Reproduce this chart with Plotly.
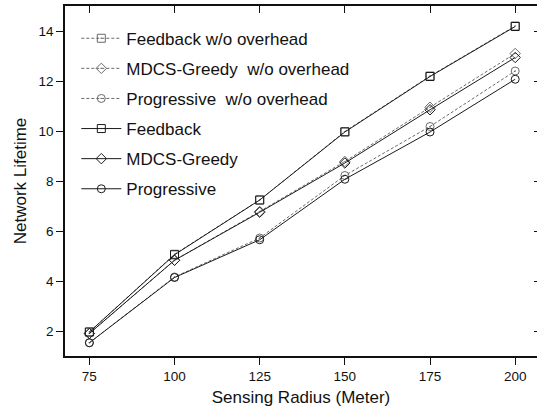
import plotly.graph_objects as go

radius = [75, 100, 125, 150, 175, 200]
feedback_wo = [1.96, 5.07, 7.24, 9.98, 12.20, 14.20]
mdcs_wo = [1.90, 4.83, 6.78, 8.78, 10.95, 13.10]
prog_wo = [1.53, 4.16, 5.72, 8.22, 10.18, 12.40]
feedback = [1.96, 5.05, 7.24, 9.96, 12.18, 14.18]
mdcs = [1.90, 4.83, 6.75, 8.72, 10.85, 12.94]
prog = [1.53, 4.14, 5.65, 8.07, 9.96, 12.07]

names = ["Feedback w/o overhead", "MDCS-Greedy\u00a0\u00a0w/o overhead", "Progressive\u00a0\u00a0w/o overhead",
         "Feedback", "MDCS-Greedy", "Progressive"]
series = [feedback_wo, mdcs_wo, prog_wo, feedback, mdcs, prog]
symbols = ["square-open-dot", "diamond-open-dot", "circle-open-dot", "square-open", "diamond-open", "circle-open"]

FONT = "Liberation Sans, Arial, sans-serif"
fig = go.Figure()
for i, (n, s, sym) in enumerate(zip(names, series, symbols)):
    dashed = i < 3
    col = "#6a6a6a" if dashed else "#1a1a1a"
    fig.add_trace(go.Scatter(
        x=radius, y=s, name=n, mode="lines+markers",
        line=dict(color=col, width=1, dash="3px,2px" if dashed else "solid"),
        marker=dict(symbol=sym, size=8, color=col, line=dict(color=col, width=1)),
        legendgroup=f"g{i}",
    ))
fig.add_trace(go.Scatter(x=[], y=[], xaxis="x2", yaxis="y2", showlegend=False, hoverinfo="skip"))

xr = [67.85, 206.4]
yr = [1.0, 15.0]
ticks_x = [75, 100, 125, 150, 175, 200]
ticks_y = [2, 4, 6, 8, 10, 12, 14]
fig.update_layout(
    width=537, height=417,
    margin=dict(l=65, r=0, t=6, b=61),
    paper_bgcolor="white", plot_bgcolor="white",
    font=dict(family=FONT, color="#111"),
    showlegend=True,
    legend=dict(x=0.024, y=0.958, xanchor="left", yanchor="top",
                font=dict(size=17, family=FONT), bgcolor="rgba(0,0,0,0)",
                tracegroupgap=5, itemwidth=40),
    xaxis=dict(range=xr, tickvals=ticks_x, ticks="outside", ticklen=7, tickwidth=1,
               tickcolor="#111", showline=True, linecolor="#111", linewidth=1.5,
               showgrid=False, zeroline=False, tickfont=dict(size=13.5),
               title=dict(text="Sensing Radius (Meter)", font=dict(size=17), standoff=8)),
    yaxis=dict(range=yr, tickvals=ticks_y, ticks="outside", ticklen=7, tickwidth=1,
               tickcolor="#111", showline=True, linecolor="#111", linewidth=1.5,
               showgrid=False, zeroline=False, tickfont=dict(size=13.5),
               title=dict(text="Network Lifetime", font=dict(size=17), standoff=8)),
    xaxis2=dict(range=xr, tickvals=ticks_x, overlaying="x", side="top", anchor="y",
                ticks="inside", ticklen=7, tickwidth=1, tickcolor="#111",
                showline=True, linecolor="#111", linewidth=1.5,
                showticklabels=False, showgrid=False, zeroline=False),
    yaxis2=dict(range=yr, tickvals=ticks_y, overlaying="y", side="right", anchor="x",
                ticks="inside", ticklen=3, tickwidth=1, tickcolor="#111",
                showline=False, showticklabels=False, showgrid=False, zeroline=False),
)
fig.write_html("out.html")
